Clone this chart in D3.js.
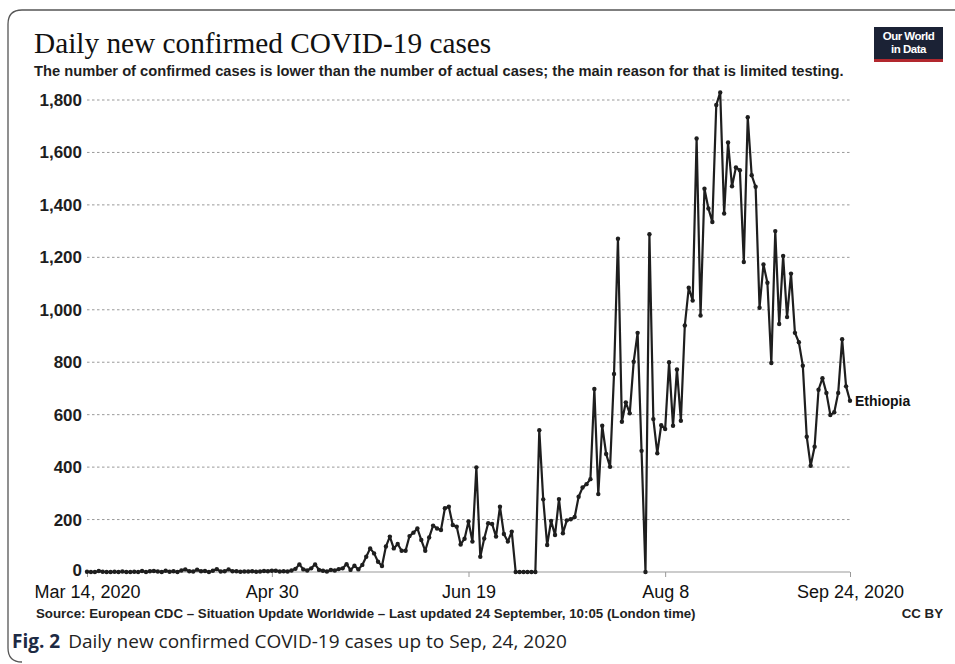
<!DOCTYPE html>
<html>
<head>
<meta charset="utf-8">
<script src="https://cdn.jsdelivr.net/npm/d3@7"></script>
<style>
  html, body { margin: 0; padding: 0; background: #fff; }
  svg { display: block; }
</style>
</head>
<body>
<svg id="chart" width="955" height="664"></svg>
<script>
// ---- Data (Ethiopia, daily new confirmed COVID-19 cases) ----
const startDate = "2020-03-14";
const casesMar = [1,0,0,4,1,0,0,1,0,2,0,0,1,0,4,0,3,4];
const casesApr = [2,0,5,1,3,0,6,10,3,2,9,3,4,0,5,11,2,3,10,3,3,1,2,2,3,1,2,4,3,5];
const casesMay = [5,2,3,2,6,12,29,10,6,14,29,8,5,2,8,6,11,14,30,8,24,10,27,58,90,71,39,23,97,135,90];
const casesJun = [107,81,81,137,150,166,122,81,132,177,166,160,243,249,179,173,105,127,193,116,399,58,128,186,183,135,249,145,116,154];
const casesJul = [0,0,0,0,0,0,541,277,103,195,141,278,148,197,201,210,287,322,335,354,698,297,558,450,401,755,1271,573,647,605,802];
const casesAug = [912,462,0,1288,583,453,560,545,800,558,772,577,940,1084,1035,1653,978,1462,1386,1335,1781,1829,1367,1638,1471,1543,1532,1182,1734,1513,1469];
const casesSep = [1008,1173,1103,797,1300,946,1205,972,1138,912,876,787,516,405,478,695,739,683,599,609,683,888,708,653];

const yTicks = [0,200,400,600,800,1000,1200,1400,1600,1800];
const xTickDates = ["2020-03-14","2020-04-30","2020-06-19","2020-08-08","2020-09-24"];
const xTickLabels = ["Mar 14, 2020","Apr 30","Jun 19","Aug 8","Sep 24, 2020"];
const seriesName = "Ethiopia";

const titleText = "Daily new confirmed COVID-19 cases";
const subtitleText = "The number of confirmed cases is lower than the number of actual cases; the main reason for that is limited testing.";
const sourceText = "Source: European CDC \u2013 Situation Update Worldwide \u2013 Last updated 24 September, 10:05 (London time)";
const licenseText = "CC BY";
const logoLines = ["Our World", "in Data"];
const figLabel = "Fig. 2";
const figCaption = "Daily new confirmed COVID-19 cases up to Sep, 24, 2020";

// ---- Build series ----
const parse = d3.timeParse("%Y-%m-%d");
const allCases = [].concat(casesMar, casesApr, casesMay, casesJun, casesJul, casesAug, casesSep);
const t0 = parse(startDate);
const data = allCases.map((v, i) => ({ date: d3.timeDay.offset(t0, i), value: v }));

const svg = d3.select("#chart");
const SANS = "Liberation Sans, Arial, sans-serif";

// Frame
svg.append("path")
  .attr("d", "M 955 10 L 22 10 Q 8 10 8 24 L 8 648 Q 8 662 22 662")
  .attr("fill", "none").attr("stroke", "#555").attr("stroke-width", 1.3);

// Title / subtitle
svg.append("text").attr("x", 34).attr("y", 53)
  .attr("font-family", "Liberation Serif, serif").attr("font-size", 29.3)
  .attr("fill", "#111").text(titleText);
svg.append("text").attr("x", 34).attr("y", 76)
  .attr("font-family", SANS).attr("font-size", 14.7)
  .attr("font-weight", 700).attr("fill", "#1e1e1e").text(subtitleText);

// Logo
const logo = svg.append("g");
logo.append("rect").attr("x", 874).attr("y", 27).attr("width", 69).attr("height", 35).attr("fill", "#1b2235");
logo.append("rect").attr("x", 874).attr("y", 59).attr("width", 69).attr("height", 3).attr("fill", "#b2282e");
logo.selectAll("text.logo").data(logoLines).join("text").attr("class", "logo")
  .attr("x", 908.5).attr("y", (d, i) => 40 + i * 13).attr("text-anchor", "middle")
  .attr("font-family", SANS).attr("font-size", 11.5).attr("font-weight", 700)
  .attr("fill", "#fff").attr("letter-spacing", -0.5).text(d => d);

// Scales
const x = d3.scaleTime().domain([parse(xTickDates[0]), parse(xTickDates[xTickDates.length - 1])]).range([87, 850]);
const y = d3.scaleLinear().domain([0, 1800]).range([572, 100]);

// Gridlines
svg.append("g").selectAll("line").data(yTicks.filter(d => d > 0)).join("line")
  .attr("x1", 87).attr("x2", 850)
  .attr("y1", d => y(d)).attr("y2", d => y(d))
  .attr("stroke", "#999").attr("stroke-width", 1).attr("stroke-dasharray", "2.5,2.5");

// Y axis labels
const yAxis = d3.axisLeft(y).tickValues(yTicks).tickSize(0).tickPadding(4).tickFormat(d3.format(","));
const gy = svg.append("g").attr("transform", "translate(86,0)").call(yAxis);
gy.select(".domain").remove();
gy.selectAll("text").attr("font-family", SANS)
  .attr("font-size", 17).attr("font-weight", 700).attr("fill", "#1e1e1e");
gy.selectAll(".tick text").filter(d => d === 0).attr("dy", "0.2em");

// X axis
const xAxis = d3.axisBottom(x).tickValues(xTickDates.map(parse)).tickSize(5).tickPadding(8)
  .tickFormat((d, i) => xTickLabels[i]);
const gx = svg.append("g").attr("transform", "translate(0,572)").call(xAxis);
gx.select(".domain").attr("stroke", "#999").attr("d", "M87,0H850");
gx.selectAll(".tick line").attr("stroke", "#999");
gx.selectAll("text").attr("font-family", SANS)
  .attr("font-size", 18).attr("fill", "#111");

// Line
const line = d3.line().x(d => x(d.date)).y(d => y(d.value));
svg.append("path").datum(data).attr("d", line)
  .attr("fill", "none").attr("stroke", "#1e1e1e").attr("stroke-width", 2.2).attr("stroke-linejoin", "round");
svg.append("g").selectAll("circle").data(data).join("circle")
  .attr("cx", d => x(d.date)).attr("cy", d => y(d.value)).attr("r", 2.2).attr("fill", "#1e1e1e");

// Series label
const last = data[data.length - 1];
svg.append("text").attr("x", x(last.date) + 5).attr("y", y(last.value) + 5)
  .attr("font-family", SANS).attr("font-size", 14)
  .attr("font-weight", 600).attr("fill", "#111").text(seriesName);

// Source / license
svg.append("text").attr("x", 36).attr("y", 618)
  .attr("font-family", SANS).attr("font-size", 13.3)
  .attr("font-weight", 700).attr("fill", "#222").text(sourceText);
svg.append("text").attr("x", 943).attr("y", 618).attr("text-anchor", "end")
  .attr("font-family", SANS).attr("font-size", 13.3)
  .attr("font-weight", 700).attr("fill", "#222").text(licenseText);

// Caption
const cap = svg.append("text").attr("x", 12).attr("y", 648)
  .attr("font-family", "Open Sans, Liberation Sans, sans-serif").attr("font-size", 19).attr("fill", "#222");
cap.append("tspan").attr("font-weight", 700).attr("fill", "#1d2a44").text(figLabel);
cap.append("tspan").attr("dx", 8).text(figCaption);
</script>
</body>
</html>
